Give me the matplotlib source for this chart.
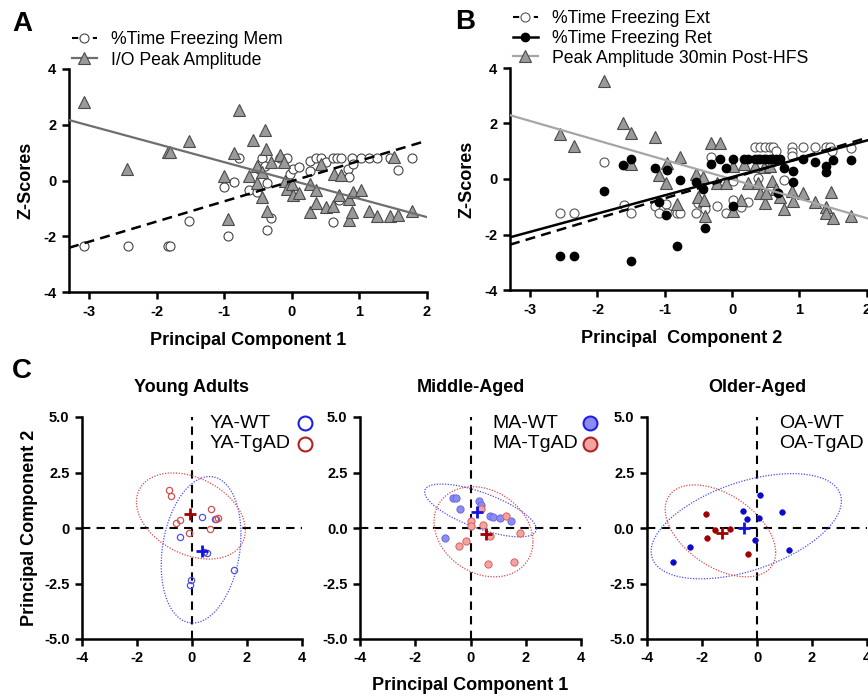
import matplotlib
matplotlib.use("Agg")
import matplotlib.pyplot as plt
from matplotlib.lines import Line2D
import numpy as np

plt.rcParams['font.family'] = ['Liberation Sans', 'DejaVu Sans']
plt.rcParams['axes.unicode_minus'] = False

# ---- panel A: PC1 vs z-scores ----
a_tri_x = [-3.08, -2.44, -1.83, -1.80, -1.53, -1.0, -0.86, -0.94, -0.78, -0.64, -0.57, -0.52, -0.52,
           -0.44, -0.44, -0.40, -0.38, -0.37, -0.31, -0.17, -0.12, -0.10, -0.08, 0.0, 0.01, 0.10,
           0.27, 0.27, 0.36, 0.36, 0.43, 0.51, 0.61, 0.63, 0.69, 0.73, 0.84, 0.85, 0.89, 0.90,
           1.03, 1.14, 1.26, 1.45, 1.51, 1.57, 1.78]
a_tri_y = [2.8, 0.4, 1.03, 1.03, 1.42, 0.17, 0.97, -1.37, 2.53, 0.17, 1.47, 0.53, -0.10,
           0.29, -0.60, 1.81, 1.13, -1.09, 0.65, 0.91, 0.65, 0.0, -0.29, -0.14, -0.53, -0.44,
           -0.11, -1.13, -0.35, -0.80, 0.58, -0.95, -0.91, 0.23, -0.53, 0.19, -1.43, -0.68, -1.13, -0.41,
           -0.35, -1.09, -1.27, -1.27, 0.85, -1.25, -1.09]
a_cir_x = [-3.08, -2.43, -1.84, -1.81, -1.53, -1.0, -0.94, -0.85, -0.78, -0.64, -0.52, -0.49, -0.44,
           -0.40, -0.37, -0.37, -0.31, -0.17, -0.08, -0.03, 0.02, 0.10, 0.27, 0.27, 0.36, 0.43,
           0.51, 0.61, 0.61, 0.67, 0.69, 0.73, 0.83, 0.85, 0.89, 0.90, 1.03, 1.14, 1.26, 1.45,
           1.57, 1.78]
a_cir_y = [-2.35, -2.35, -2.35, -2.35, -1.45, -0.23, -1.99, -0.07, 0.79, -0.35, -0.41, 0.43, 0.79,
           0.53, -0.08, -1.79, -1.33, 0.79, 0.79, 0.22, 0.43, 0.49, 0.70, 0.34, 0.79, 0.79,
           0.65, 0.79, -1.49, 0.79, -0.71, 0.79, 0.43, 0.13, 0.79, 0.58, 0.79, 0.79, 0.79, 0.79,
           0.37, 0.79]
a_fit_io = [-0.657, 0.0]     # slope, intercept
a_fit_mem = [0.725, -0.02]

# ---- panel B: PC2 vs z-scores ----
b_tri_x = [-1.91, -2.56, -2.35, -1.62, -1.50, -1.50, -1.14, -1.09, -0.98, -0.96, -0.82, -0.77, -0.54,
           -0.51, -0.43, -0.42, -0.40, -0.31, -0.18, -0.22, -0.09, 0.01, 0.01, 0.14, 0.18, 0.24,
           0.34, 0.39, 0.42, 0.47, 0.49, 0.51, 0.56, 0.60, 0.66, 0.71, 0.77, 0.89, 0.90, 1.06,
           1.23, 1.39, 1.40, 1.47, 1.50, 1.76]
b_tri_y = [3.54, 1.62, 1.19, 2.0, 1.64, 0.54, 1.50, 0.14, -0.16, 0.56, -0.90, 0.80, 0.17,
           -0.66, 0.06, -0.76, -1.35, 1.31, 1.31, -0.16, -0.16, 0.48, -1.14, -0.76, 0.54, -0.16,
           0.48, -0.16, -0.49, 0.44, -0.88, -0.49, 0.48, -0.06, -0.36, -0.64, -1.09, -0.42, -0.78, -0.49,
           -0.82, -1.0, -1.24, -0.46, -1.41, -1.35]
b_ret_x = [-2.56, -2.35, -1.91, -1.62, -1.50, -1.50, -1.14, -1.09, -0.98, -0.96, -0.82, -0.77, -0.54,
           -0.43, -0.40, -0.31, -0.18, -0.09, 0.01, 0.01, 0.18, 0.24, 0.34, 0.39, 0.42, 0.47,
           0.51, 0.56, 0.60, 0.66, 0.71, 0.77, 0.69, 0.90, 0.90, 1.06, 1.23, 1.39, 1.40, 1.50, 1.76]
b_ret_y = [-2.76, -2.76, -0.43, 0.50, 0.71, -2.97, 0.38, -0.82, -1.29, 0.32, -2.40, -0.04, -0.12,
           -0.36, -1.77, 0.54, 0.71, 0.38, 0.71, -0.96, 0.71, 0.71, 0.71, 0.71, 0.71, 0.71,
           0.71, 0.71, 0.71, 0.71, 0.71, 0.38, -0.49, 0.29, -0.10, 0.71, 0.60, 0.48, 0.24, 0.68, 0.68]
b_ext_x = [-2.56, -2.35, -1.91, -1.60, -1.50, -1.14, -1.09, -0.98, -0.96, -0.82, -0.77, -0.54, -0.51,
           -0.42, -0.40, -0.31, -0.22, -0.09, 0.01, 0.01, 0.14, 0.24, 0.39, 0.34, 0.42, 0.49,
           0.56, 0.61, 0.66, 0.77, 0.89, 0.89, 0.89, 1.06, 1.23, 1.39, 1.46, 1.48, 1.76]
b_ext_y = [-1.21, -1.21, 0.62, -0.94, -1.21, -0.97, -1.21, -0.90, -1.21, -1.21, -1.21, -1.21, -0.88,
           -0.94, -1.09, 0.80, -0.97, -1.21, -0.07, -0.76, -1.02, -0.82, 0.02, 1.16, 1.16, 1.16,
           1.16, 1.16, 1.0, -0.04, 1.16, 0.98, 0.84, 1.16, 1.16, 1.16, 1.16, 1.02, 1.10]
b_fit_peak = [-0.70, -0.01]
b_fit_ret = [0.658, 0.07]
b_fit_ext = [0.726, 0.03]

# ---- panel C: PCA by age group ----
ya_wt_x = [0.36, -0.42, 0.84, 0.54, 0.42, 1.54, -0.02, -0.08]
ya_wt_y = [0.48, -0.41, 0.42, -1.13, -1.08, -1.91, -2.33, -2.55]
ya_ad_x = [-0.83, -0.75, 0.70, 0.94, 0.88, -0.45, -0.57, -0.11, 0.66]
ya_ad_y = [1.73, 1.46, 0.86, 0.45, 0.42, 0.38, 0.23, -0.23, -0.03]
ma_wt_x = [-0.65, -0.51, -0.37, -0.94, 0.29, 0.37, 0.71, 0.83, 1.05, 1.46]
ma_wt_y = [1.37, 1.37, 0.86, -0.44, 1.22, 1.04, 0.56, 0.51, 0.44, 0.33]
ma_ad_x = [0.01, 0.02, 0.37, 0.45, 0.69, 1.28, 1.78, -0.16, -0.40, 0.62, 1.56]
ma_ad_y = [0.33, 0.09, 0.84, 0.14, -0.36, 0.56, -0.21, -0.59, -0.81, -1.64, -1.52]
oa_wt_x = [-3.07, -2.44, -0.52, -0.35, -0.08, 0.06, 0.11, 0.91, 1.16]
oa_wt_y = [-1.52, -0.84, 0.75, 0.39, -0.54, 0.44, 1.47, 0.71, -0.99]
oa_ad_x = [-1.85, -1.81, -1.52, -1.0, -0.31]
oa_ad_y = [0.65, -0.47, -0.11, -0.03, -1.17]
# group means (x, y)
centroids = {'YA': [(0.36, -1.05), (-0.06, 0.63)],
             'MA': [(0.23, 0.71), (0.57, -0.27)],
             'OA': [(-0.47, 0.0), (-1.28, -0.21)]}
# ellipses: cx, cy, x half-range, y half-range, tilt (corr)
ellipses = {'YA': [(0.33, -0.98, 1.45, 3.3, 0.21), (-0.04, 0.54, 1.98, 1.94, -0.33)],
            'MA': [(0.36, 0.79, 2.02, 1.19, -0.70), (0.47, -0.17, 1.79, 2.03, -0.22)],
            'OA': [(-0.39, 0.08, 3.46, 2.37, 0.48), (-1.33, -0.13, 2.01, 2.07, -0.47)]}

W, H = 868, 696
fig = plt.figure(figsize=(W / 100, H / 100), dpi=100)


def px_axes(l, t, r, b):
    return fig.add_axes([l / W, 1 - b / H, (r - l) / W, (b - t) / H])


def style(ax):
    for s in ['top', 'right']:
        ax.spines[s].set_visible(False)
    for s in ['left', 'bottom']:
        ax.spines[s].set_linewidth(1.8)
    ax.tick_params(width=1.8, length=5, labelsize=10.5, pad=4)
    for lab in ax.get_xticklabels() + ax.get_yticklabels():
        lab.set_fontweight('bold')


lab_kw = dict(fontsize=13, fontweight='bold')

# panel A
axA = px_axes(69, 69, 427, 292)
axA.plot(a_cir_x, a_cir_y, 'o', ms=6.5, mfc='white', mec='#444444', mew=0.8, zorder=3)
axA.plot(a_tri_x, a_tri_y, '^', ms=8, mfc='#9a9a9a', mec='#4a4a4a', mew=0.8, zorder=4)
xx = np.array([-3.3, 2.0])
axA.plot(xx, a_fit_io[0] * xx + a_fit_io[1], color='#6e6e6e', lw=1.6, zorder=5)
axA.plot(xx, a_fit_mem[0] * xx + a_fit_mem[1], color='black', lw=1.8, ls=(0, (4, 2.5)), zorder=5)
axA.set_xlim(-3.3, 2)
axA.set_ylim(-4, 4)
axA.set_xticks([-3, -2, -1, 0, 1, 2])
axA.set_yticks([-4, -2, 0, 2, 4])
style(axA)
axA.set_ylabel('Z-Scores', **lab_kw)
axA.yaxis.set_label_coords(-0.095, 0.5)
axA.set_xlabel('Principal Component 1', **lab_kw)
axA.xaxis.set_label_coords(0.5, -0.18)
hA = [Line2D([], [], color='black', ls=(0, (3, 2)), lw=1.5, marker='o', ms=6.5, mfc='white', mec='#444444', mew=0.8),
      Line2D([], [], color='#6e6e6e', lw=1.6, marker='^', ms=8, mfc='#9a9a9a', mec='#4a4a4a', mew=0.8)]
axA.legend(hA, ['%Time Freezing Mem', 'I/O Peak Amplitude'], loc='upper left',
           bbox_to_anchor=(72 / W, 1 - 31 / H), bbox_transform=fig.transFigure,
           frameon=False, fontsize=12.7, borderpad=0, borderaxespad=0,
           handlelength=1.4, handletextpad=0.8, labelspacing=0.2)

# panel B
axB = px_axes(510, 68, 868, 290)
axB.plot(b_ext_x, b_ext_y, 'o', ms=6.5, mfc='white', mec='#555555', mew=0.8, zorder=3)
axB.plot(b_tri_x, b_tri_y, '^', ms=8, mfc='#9a9a9a', mec='#4a4a4a', mew=0.8, zorder=4)
axB.plot(b_ret_x, b_ret_y, 'o', ms=6.0, color='black', zorder=4)
xb = np.array([-3.3, 2.02])
axB.plot(xb, b_fit_peak[0] * xb + b_fit_peak[1], color='#a6a6a6', lw=1.6, zorder=5)
axB.plot(xb, b_fit_ret[0] * xb + b_fit_ret[1], color='black', lw=1.8, zorder=5)
axB.plot(xb, b_fit_ext[0] * xb + b_fit_ext[1], color='black', lw=1.8, ls=(0, (4, 2.5)), zorder=5)
axB.set_xlim(-3.3, 2.02)
axB.set_ylim(-4, 4)
axB.set_xticks([-3, -2, -1, 0, 1, 2])
axB.set_yticks([-4, -2, 0, 2, 4])
style(axB)
axB.set_ylabel('Z-Scores', **lab_kw)
axB.yaxis.set_label_coords(-0.095, 0.5)
axB.set_xlabel('Principal  Component 2', **lab_kw)
axB.xaxis.set_label_coords(0.48, -0.18)
hB = [Line2D([], [], color='black', ls=(0, (3, 2)), lw=1.5, marker='o', ms=6.5, mfc='white', mec='#555555', mew=0.8),
      Line2D([], [], color='black', lw=1.8, marker='o', ms=6.0),
      Line2D([], [], color='#a6a6a6', lw=1.6, marker='^', ms=8, mfc='#9a9a9a', mec='#4a4a4a', mew=0.8)]
axB.legend(hB, ['%Time Freezing Ext', '%Time Freezing Ret', 'Peak Amplitude 30min Post-HFS'],
           loc='upper left', bbox_to_anchor=(513 / W, 1 - 10 / H), bbox_transform=fig.transFigure,
           frameon=False, fontsize=12.7, borderpad=0, borderaxespad=0,
           handlelength=1.4, handletextpad=0.8, labelspacing=0.16)

# panel C
groups = [
    ('YA', 'Young Adults', 82, 302, ya_wt_x, ya_wt_y, ya_ad_x, ya_ad_y,
     dict(ms=4.5, mfc='none', mec='#5050e0', mew=0.9), dict(ms=4.5, mfc='none', mec='#d05050', mew=0.9),
     dict(ms=10, mfc='none', mec='#1f1fe0', mew=1.5), dict(ms=10, mfc='none', mec='#b22222', mew=1.5),
     ['5.0', '2.5', '0', '-2.5', '-5.0'], 128, 223),
    ('MA', 'Middle-Aged', 360, 581, ma_wt_x, ma_wt_y, ma_ad_x, ma_ad_y,
     dict(ms=5.2, mfc='#8c8cf0', mec='#6a6ae6', mew=0.7), dict(ms=5.2, mfc='#f4a3a3', mec='#d86060', mew=0.7),
     dict(ms=10, mfc='#8c8cf0', mec='#1f1fe0', mew=1.5), dict(ms=10, mfc='#f4a3a3', mec='#b22222', mew=1.5),
     ['5.0', '2.5', '0.0', '-2.5', '-5.0'], 132, 230),
    ('OA', 'Older-Aged', 647, 867, oa_wt_x, oa_wt_y, oa_ad_x, oa_ad_y,
     dict(ms=4.0, mfc='#0a0acc', mec='#0a0acc', mew=0.5), dict(ms=4.0, mfc='#a00000', mec='#a00000', mew=0.5),
     dict(ms=10, mfc='#0a0acc', mec='#0a0acc', mew=1.5), dict(ms=10, mfc='#a00000', mec='#a00000', mew=1.5),
     ['5.0', '2.5', '0.0', '-2.5', '-5.0'], 132, 230),
]
t = np.linspace(0, 2 * np.pi, 300)
leg_rows = [423, 444]
for i, (key, title, l, r, wx, wy, dx, dy, wkw, dkw, wleg, dleg, ylabs, txt_off, mk_off) in enumerate(groups):
    ax = px_axes(l, 417, r, 639)
    ax.axhline(0, color='black', lw=1.5, ls=(0, (4, 3)), zorder=1)
    ax.axvline(0, color='black', lw=1.5, ls=(0, (4, 3)), zorder=1)
    for (cx, cy, rx, ry, rho), col in zip(ellipses[key], ['#4a4aff', '#e04848']):
        ax.plot(cx + rx * np.cos(t), cy + ry * (rho * np.cos(t) + np.sqrt(1 - rho ** 2) * np.sin(t)),
                color=col, lw=0.9, ls=(0, (1, 1.2)), zorder=2)
    ax.plot(wx, wy, 'o', zorder=3, **wkw)
    ax.plot(dx, dy, 'o', zorder=3, **dkw)
    (mwx, mwy), (mdx, mdy) = centroids[key]
    ax.plot(mwx, mwy, '+', ms=9, mew=2, color='#1515d8', zorder=4)
    ax.plot(mdx, mdy, '+', ms=9, mew=2, color='#a00000', zorder=4)
    ax.set_xlim(-4, 4)
    ax.set_ylim(-5, 5)
    ax.set_xticks([-4, -2, 0, 2, 4])
    ax.set_yticks([5, 2.5, 0, -2.5, -5])
    ax.set_yticklabels(ylabs)
    style(ax)
    ax.text(0.5, 1.135, title, transform=ax.transAxes, ha='center', va='center',
            fontsize=13, fontweight='bold')
    # legend: label text on the left, symbol on the right
    for lab, mkw, yy in zip([key + '-WT', key + '-TgAD'], [wleg, dleg], leg_rows):
        fig.text((l + txt_off) / W, 1 - yy / H, lab, fontsize=14, ha='left', va='center')
        fig.add_artist(Line2D([(l + mk_off) / W], [1 - yy / H], transform=fig.transFigure,
                              ls='none', marker='o', **mkw))
    if i == 0:
        ax.set_ylabel('Principal Component 2', **lab_kw)
        ax.yaxis.set_label_coords(-0.2, 0.5)
    if i == 1:
        ax.set_xlabel('Principal Component 1', **lab_kw)
        ax.xaxis.set_label_coords(0.5, -0.17)

fig.text(22 / W, 1 - 24 / H, 'A', fontsize=20, fontweight='bold', ha='center', va='center')
fig.text(465 / W, 1 - 22 / H, 'B', fontsize=20, fontweight='bold', ha='center', va='center')
fig.text(22 / W, 1 - 371 / H, 'C', fontsize=20, fontweight='bold', ha='center', va='center')

fig.savefig('out.png', dpi=100)
